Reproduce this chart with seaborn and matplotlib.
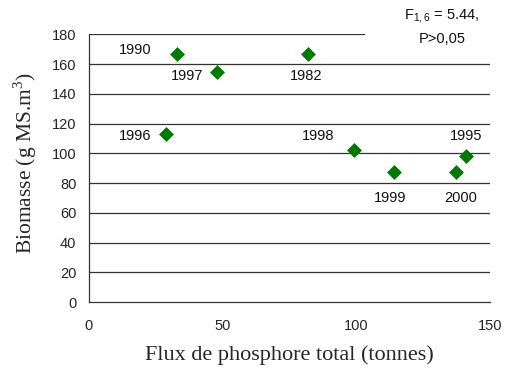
import matplotlib
matplotlib.use("Agg")
import matplotlib.pyplot as plt
from matplotlib.patches import Rectangle
import seaborn as sns
import pandas as pd

# Flux de phosphore total (tonnes) vs biomasse, par année
years = ["1990", "1997", "1982", "1996", "1998", "1999", "2000", "1995"]
flux = [32.8, 48.1, 81.8, 28.7, 99.1, 114.1, 137.2, 141.0]
biomass = [166.7, 154.5, 166.7, 113.0, 102.3, 87.3, 87.3, 98.3]
# label offsets in points (dx, dy) relative to each diamond
label_offsets = [(-29.5, 2.7), (-21.7, -2.9), (-1.2, -16), (-21.6, -1.7),
                 (-25.7, 9.9), (-2.9, -18.5), (3.8, -18.5), (0, 14.2)]

x_ticks = [0, 50, 100, 150]
y_ticks = list(range(0, 181, 20))

df = pd.DataFrame({"flux": flux, "biomasse": biomass, "annee": years})

sns.set_style("white")
plt.rcParams["font.family"] = ["Liberation Sans", "DejaVu Sans"]

fig = plt.figure(figsize=(5.05, 3.74), dpi=100)
ax = fig.add_axes([0.176, 0.1925, 0.794, 0.7155])

for yv in y_ticks[1:]:
    ax.axhline(yv, color="#333333", lw=0.9, zorder=1)

sns.scatterplot(data=df, x="flux", y="biomasse", marker="D", s=50,
                color="#007A00", edgecolor="#007A00", linewidth=0.5,
                ax=ax, zorder=3, legend=False)

for yr, xv, yv, (dx, dy) in zip(years, flux, biomass, label_offsets):
    ax.annotate(yr, (xv, yv), xytext=(dx, dy), textcoords="offset points",
                ha="center", va="center", fontsize=10.5, color="#111111", zorder=4)

ax.set_xlim(0, 150)
ax.set_ylim(0, 180)
ax.set_xticks(x_ticks)
ax.set_yticks(y_ticks)
ax.tick_params(axis="both", labelsize=10.5, length=3, width=0.9, color="#333333",
               direction="out")
ax.tick_params(axis="y", pad=6)
ax.tick_params(axis="x", pad=9)
for side in ["top", "right"]:
    ax.spines[side].set_visible(False)
for side in ["left", "bottom"]:
    ax.spines[side].set_color("#333333")
    ax.spines[side].set_linewidth(0.9)

ax.set_xlabel("Flux de phosphore total (tonnes)", family="Liberation Serif",
              fontsize=16, labelpad=9)
ax.set_ylabel("Biomasse (g MS.m$^{\\mathregular{3}}$)", family="Liberation Serif",
              fontsize=15.5)
ax.yaxis.set_label_coords(-0.125, 0.52)

# white panel behind the statistics note
fig.patches.append(Rectangle((0.723, 0.87), 0.28, 0.13, transform=fig.transFigure,
                             facecolor="white", edgecolor="none", zorder=9))
fig.text(0.875, 0.929, "F$_{\\mathregular{1,6}}$ = 5.44,\nP>0,05", ha="center", va="center",
         fontsize=10.5, linespacing=1.55, color="#111111", zorder=10)

fig.savefig("out.png", dpi=100)
